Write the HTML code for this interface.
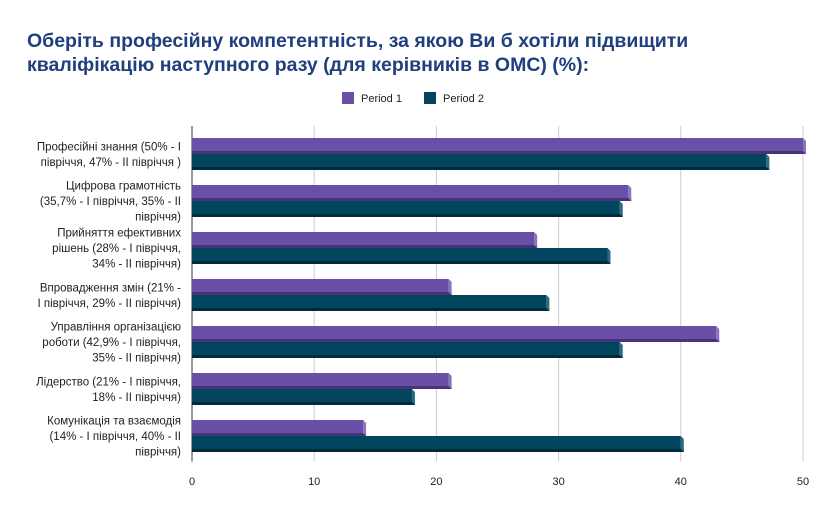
<!DOCTYPE html>
<html><head><meta charset="utf-8"><style>
body{margin:0;background:#fff;font-family:"Liberation Sans",sans-serif;}
svg text{font-family:"Liberation Sans",sans-serif;}
</style></head><body>
<svg id="c" width="831" height="513">
<text x="27" y="47" font-size="19.5" font-weight="bold" fill="#1f3f7d">Оберіть професійну компетентність, за якою Ви б хотіли підвищити</text>
<text x="27" y="71" font-size="19.5" font-weight="bold" fill="#1f3f7d">кваліфікацію наступного разу (для керівників в ОМС) (%):</text>
<g>
<rect x="342" y="92" width="12" height="12" fill="#6a4fa6"/>
<text x="361" y="102" font-size="11" fill="#222">Period 1</text>
<rect x="424" y="92" width="12" height="12" fill="#02455f"/>
<text x="443" y="102" font-size="11" fill="#222">Period 2</text>
</g>
<g id="grid"></g><g id="bars"></g><g id="labels"></g>
</svg>
<script>
const categories=[["Професійні знання (50% - I","півріччя, 47% - II півріччя )"],["Цифрова грамотність","(35,7% - I півріччя, 35% - II","півріччя)"],["Прийняття ефективних","рішень (28% - I півріччя,","34% - II півріччя)"],["Впровадження змін (21% -","I півріччя, 29% - II півріччя)"],["Управління організацією","роботи (42,9% - I півріччя,","35% - II півріччя)"],["Лідерство (21% - I півріччя,","18% - II півріччя)"],["Комунікація та взаємодія","(14% - I півріччя, 40% - II","півріччя)"]];
const period1=[50,35.7,28,21,42.9,21,14];
const period2=[47,35,34,29,35,18,40];
const ticks=[0,10,20,30,40,50];
const NS="http://www.w3.org/2000/svg";
const X0=192,X1=803,MAX=50,TOP=130.5,BOT=459.5;
const x=v=>X0+(X1-X0)*v/MAX;
const band=(BOT-TOP)/categories.length;
const grid=document.getElementById('grid'),bars=document.getElementById('bars'),labels=document.getElementById('labels');
function mk(tag,attrs,parent){const e=document.createElementNS(NS,tag);for(const k in attrs)e.setAttribute(k,attrs[k]);parent.appendChild(e);return e;}
ticks.forEach((t,i)=>{
  const gl=mk('line',{x1:x(t),x2:x(t),y1:126,y2:BOT+2,stroke:i===0?'#333':'#ccc','stroke-width':1},grid);
  
  
  const tl=mk('text',{x:x(t),y:485,'font-size':11,fill:'#222','text-anchor':'middle'},grid);
  tl.textContent=t;
  
  
});
function bar(v,y,face,dark,side,name){
  const g=mk('g',{},bars);
  
  
  const xe=x(v);
  mk('rect',{x:X0,y:y,width:xe-X0,height:13,fill:face},g);
  mk('rect',{x:X0,y:y+13,width:xe-X0+3,height:3,fill:dark},g);
  mk('polygon',{points:`${xe},${y} ${xe+3},${y+3} ${xe+3},${y+16} ${xe},${y+13}`,fill:side},g);
}
categories.forEach((c,i)=>{
  const cy=TOP+band*(i+0.5);
  bar(period1[i],cy-16,'#6a4fa6','#46347a','#8a72bd','bar-period-1-'+i);
  bar(period2[i],cy,'#02455f','#012b3c','#2b6a80','bar-period-2-'+i);
  const n=c.length,lh=15.5;
  c.forEach((ln,j)=>{
    const t=mk('text',{x:181,y:cy-(n-1)*lh/2+j*lh+4,'font-size':11.5,fill:'#222','text-anchor':'end'},labels);
    t.textContent=ln;
    
    
  });
});
</script>
</body></html>
